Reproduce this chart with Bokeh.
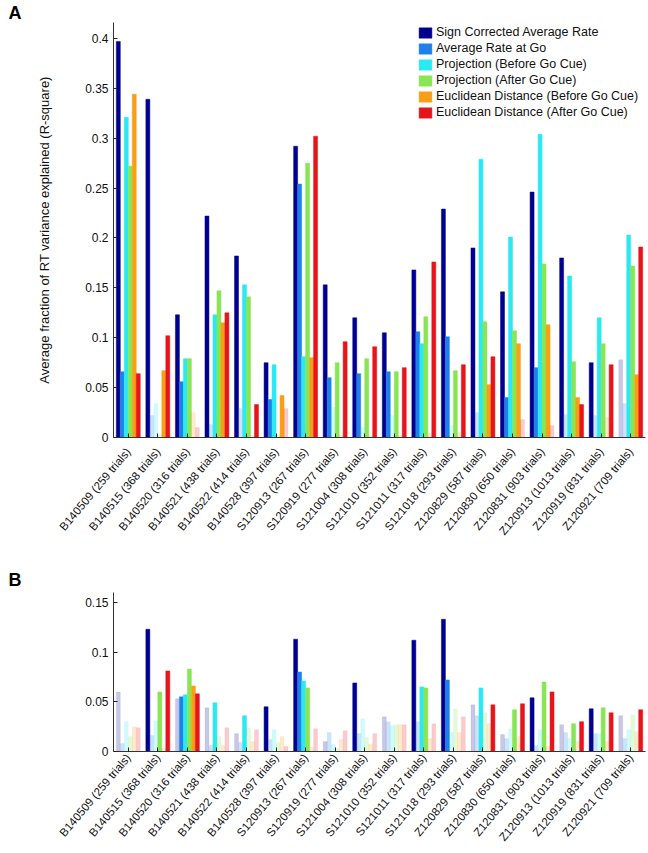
import math
from bokeh.plotting import figure
from bokeh.models import (Range1d, FactorRange, FixedTicker, NumeralTickFormatter,
                          Legend, LegendItem, ColumnDataSource)
from bokeh.transform import dodge
from bokeh.layouts import column
from bokeh.embed import file_html
from bokeh.resources import INLINE

FONT = "Liberation Sans"

sessions = ["B140509 (259 trials)", "B140515 (368 trials)", "B140520 (316 trials)",
            "B140521 (438 trials)", "B140522 (414 trials)", "B140528 (397 trials)",
            "S120913 (267 trials)", "S120919 (277 trials)", "S121004 (308 trials)",
            "S121010 (352 trials)", "S121011 (317 trials)", "S121018 (293 trials)",
            "Z120829 (587 trials)", "Z120830 (650 trials)", "Z120831 (903 trials)",
            "Z120913 (1013 trials)", "Z120919 (831 trials)", "Z120921 (709 trials)"]

series_names = ["Sign Corrected Average Rate", "Average Rate at Go",
                "Projection (Before Go Cue)", "Projection (After Go Cue)",
                "Euclidean Distance (Before Go Cue)", "Euclidean Distance (After Go Cue)"]
series_colors = ["#00008F", "#1E80E8", "#2BE9F2", "#88E553", "#FA9E16", "#E6141B"]

# ---- Panel A values (R-square) ----
a_sign_corrected = [0.397, 0.339, 0.123, 0.222, 0.182, 0.075, 0.292, 0.153, 0.120,
                    0.105, 0.168, 0.229, 0.190, 0.146, 0.246, 0.180, 0.075, 0.078]
a_rate_at_go = [0.066, 0.022, 0.056, 0.013, 0.029, 0.038, 0.254, 0.060, 0.064,
                0.066, 0.106, 0.101, 0.025, 0.040, 0.070, 0.023, 0.022, 0.034]
a_proj_before = [0.321, 0.034, 0.079, 0.123, 0.153, 0.073, 0.081, 0.030, 0.010,
                 0.022, 0.094, 0.012, 0.279, 0.201, 0.304, 0.162, 0.120, 0.203]
a_proj_after = [0.272, 0.003, 0.079, 0.147, 0.141, 0.003, 0.275, 0.075, 0.079,
                0.066, 0.121, 0.067, 0.116, 0.107, 0.174, 0.076, 0.094, 0.172]
a_eucl_before = [0.344, 0.067, 0.025, 0.115, 0.002, 0.042, 0.080, 0.002, 0.002,
                 0.002, 0.004, 0.005, 0.053, 0.094, 0.113, 0.040, 0.020, 0.063]
a_eucl_after = [0.064, 0.102, 0.010, 0.125, 0.033, 0.029, 0.302, 0.096, 0.091,
                0.070, 0.176, 0.073, 0.081, 0.018, 0.012, 0.033, 0.073, 0.191]
# significance flags (1 = significant / solid, 0 = not significant / faded)
a_sig_sign_corrected = [1, 1, 1, 1, 1, 1, 1, 1, 1, 1, 1, 1, 1, 1, 1, 1, 1, 0]
a_sig_rate_at_go = [1, 0, 1, 0, 0, 1, 1, 1, 1, 1, 1, 1, 0, 1, 1, 0, 0, 0]
a_sig_proj_before = [1, 0, 1, 1, 1, 1, 1, 0, 0, 0, 1, 0, 1, 1, 1, 1, 1, 1]
a_sig_proj_after = [1, 0, 1, 1, 1, 0, 1, 1, 1, 1, 1, 1, 1, 1, 1, 1, 1, 1]
a_sig_eucl_before = [1, 1, 0, 1, 0, 1, 1, 0, 0, 0, 0, 0, 1, 1, 1, 1, 0, 1]
a_sig_eucl_after = [1, 1, 0, 1, 1, 0, 1, 1, 1, 1, 1, 1, 1, 0, 0, 1, 1, 1]

# ---- Panel B values (R-square) ----
b_sign_corrected = [0.060, 0.123, 0.053, 0.044, 0.018, 0.045, 0.113, 0.010, 0.069,
                    0.035, 0.112, 0.133, 0.047, 0.017, 0.054, 0.027, 0.043, 0.036]
b_rate_at_go = [0.008, 0.016, 0.055, 0.006, 0.009, 0.012, 0.080, 0.019, 0.018,
                0.030, 0.030, 0.072, 0.036, 0.013, 0.006, 0.019, 0.018, 0.013]
b_proj_before = [0.030, 0.031, 0.057, 0.049, 0.036, 0.022, 0.071, 0.007, 0.033,
                 0.026, 0.065, 0.019, 0.064, 0.023, 0.022, 0.013, 0.018, 0.022]
b_proj_after = [0.015, 0.060, 0.083, 0.015, 0.024, 0.009, 0.064, 0.003, 0.014,
                0.027, 0.064, 0.043, 0.039, 0.042, 0.070, 0.028, 0.044, 0.037]
b_eucl_before = [0.025, 0.003, 0.066, 0.006, 0.010, 0.015, 0.004, 0.012, 0.007,
                 0.027, 0.013, 0.019, 0.028, 0.015, 0.005, 0.010, 0.010, 0.020]
b_eucl_after = [0.024, 0.081, 0.058, 0.024, 0.022, 0.005, 0.023, 0.021, 0.018,
                0.027, 0.028, 0.035, 0.047, 0.048, 0.060, 0.030, 0.039, 0.042]
b_sig_sign_corrected = [0, 1, 0, 0, 0, 1, 1, 0, 1, 0, 1, 1, 0, 0, 1, 0, 1, 0]
b_sig_rate_at_go = [0, 0, 1, 0, 0, 0, 1, 0, 0, 0, 0, 1, 0, 0, 0, 0, 0, 0]
b_sig_proj_before = [0, 0, 1, 1, 1, 0, 1, 0, 0, 0, 1, 0, 1, 0, 0, 0, 0, 0]
b_sig_proj_after = [0, 1, 1, 0, 0, 0, 1, 0, 0, 0, 1, 0, 0, 1, 1, 1, 1, 0]
b_sig_eucl_before = [0, 0, 1, 0, 0, 0, 0, 0, 0, 0, 0, 0, 0, 0, 0, 0, 0, 0]
b_sig_eucl_after = [0, 1, 1, 0, 0, 0, 0, 0, 0, 0, 0, 0, 1, 1, 1, 1, 1, 1]

a_ticks = [0, 0.05, 0.1, 0.15, 0.2, 0.25, 0.3, 0.35, 0.4]
b_ticks = [0, 0.05, 0.1, 0.15]
y_label = "Average fraction of RT variance explained (R-square)"

BAR_W = 0.135
FADE = 0.22
LEFT = 113


def build_panel(values, sigs, y_end, ticks, height, b_top, b_bottom, letter,
                letter_standoff, x_standoff, ylabel=None, legend=False):
    p = figure(x_range=FactorRange(*sessions), y_range=Range1d(0, y_end),
               width=648, height=height, output_backend="svg",
               toolbar_location=None, min_border_left=LEFT, min_border_right=3,
               min_border_top=b_top, min_border_bottom=b_bottom,
               background_fill_color="white", border_fill_color="white",
               title=letter)
    p.outline_line_color = None
    p.grid.grid_line_color = None
    p.x_range.range_padding = 0

    t = p.title
    t.align = "left"
    t.offset = -(LEFT - 8)
    t.standoff = letter_standoff
    t.text_font = FONT
    t.text_font_size = "18px"
    t.text_font_style = "bold"
    t.text_color = "#000000"
    t.text_line_height = 1.0

    items = []
    for j in range(6):
        off = (j - 2.5) * BAR_W
        vals, sg = values[j], sigs[j]
        src_s = ColumnDataSource(dict(session=[s for s, v, f in zip(sessions, vals, sg) if f],
                                      top=[v for v, f in zip(vals, sg) if f]))
        src_f = ColumnDataSource(dict(session=[s for s, v, f in zip(sessions, vals, sg) if not f],
                                      top=[v for v, f in zip(vals, sg) if not f]))
        c = series_colors[j]
        p.vbar(x=dodge("session", off, range=p.x_range), top="top", width=BAR_W,
               source=src_f, fill_color=c, fill_alpha=FADE, line_color=c, line_alpha=0.12,
               line_width=0.5)
        r = p.vbar(x=dodge("session", off, range=p.x_range), top="top", width=BAR_W,
                   source=src_s, fill_color=c, line_color=c, line_width=0.5)
        items.append(LegendItem(label=series_names[j], renderers=[r]))

    if legend:
        lg = Legend(items=items, location=(304, 318))
        lg.glyph_width = 16
        lg.glyph_height = 13
        lg.label_height = 13
        lg.label_standoff = 3
        lg.spacing = 2
        lg.padding = 0
        lg.margin = 0
        lg.border_line_color = None
        lg.background_fill_alpha = 0
        lg.label_text_font = FONT
        lg.label_text_font_size = "12.5px"
        lg.label_text_color = "#111111"
        p.add_layout(lg)

    xa = p.xaxis[0]
    xa.major_label_orientation = 50 * math.pi / 180
    xa.major_label_text_font = FONT
    xa.major_label_text_font_size = "11.5px"
    xa.major_label_text_color = "#111111"
    xa.major_label_standoff = x_standoff
    xa.major_tick_in = 4
    xa.major_tick_out = 0
    xa.major_tick_line_color = "#222222"
    xa.axis_line_color = "#333333"

    ya = p.yaxis[0]
    ya.ticker = FixedTicker(ticks=ticks)
    ya.formatter = NumeralTickFormatter(format="0.[00]")
    ya.major_label_text_font = FONT
    ya.major_label_text_font_size = "12px"
    ya.major_label_text_color = "#111111"
    ya.major_label_standoff = 5
    ya.major_tick_in = 4
    ya.major_tick_out = 0
    ya.minor_tick_line_color = None
    ya.major_tick_line_color = "#222222"
    ya.axis_line_color = "#333333"
    if ylabel:
        ya.axis_label = ylabel
        ya.axis_label_text_font = FONT
        ya.axis_label_text_font_size = "13px"
        ya.axis_label_text_font_style = "normal"
        ya.axis_label_text_color = "#111111"
        ya.axis_label_standoff = 30
    return p


a_values = [a_sign_corrected, a_rate_at_go, a_proj_before, a_proj_after, a_eucl_before, a_eucl_after]
a_sigs = [a_sig_sign_corrected, a_sig_rate_at_go, a_sig_proj_before, a_sig_proj_after,
          a_sig_eucl_before, a_sig_eucl_after]
b_values = [b_sign_corrected, b_rate_at_go, b_proj_before, b_proj_after, b_eucl_before, b_eucl_after]
b_sigs = [b_sig_sign_corrected, b_sig_rate_at_go, b_sig_proj_before, b_sig_proj_after,
          b_sig_eucl_before, b_sig_eucl_after]

pA = build_panel(a_values, a_sigs, 0.416, a_ticks, 565, 20, 128, "A", 0, 12,
                 ylabel=y_label, legend=True)
pB = build_panel(b_values, b_sigs, 0.16, b_ticks, 287, 25, 101, "B", 5, 4)

layout = column(pA, pB, spacing=0)
open("out.html", "w").write(file_html(layout, INLINE))
